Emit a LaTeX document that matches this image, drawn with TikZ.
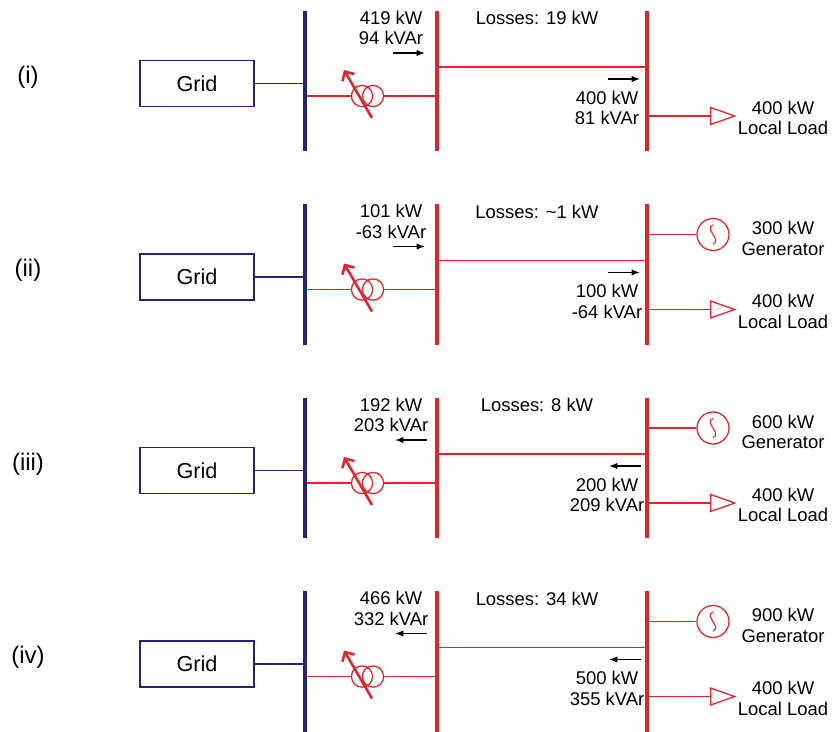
\documentclass[tikz,border=0pt]{standalone}
\usepackage{fontspec}
\setmainfont{Liberation Sans}
\usepackage{xcolor}
\usetikzlibrary{arrows.meta,shapes.geometric}

\definecolor{busblue}{RGB}{38,34,122}
\definecolor{busred}{RGB}{226,36,42}

\begin{document}
\begin{tikzpicture}[x=0.025cm,y=-0.025cm,
  font=\fontsize{13.1}{14.4}\selectfont,
  busbar/.style={minimum width=0.1cm,minimum height=3.5cm,inner sep=0pt},
  gridbox/.style={draw=busblue,line width=1pt,minimum width=2.85cm,minimum height=1.15cm,font=\fontsize{15.4}{18}\selectfont},
  caselabel/.style={font=\fontsize{17}{20}\selectfont},
  coil/.style={circle,draw=busred,line width=0.9pt,minimum size=0.53cm,inner sep=0pt},
  loadtri/.style={isosceles triangle,isosceles triangle stretches,draw=busred,line width=0.9pt,minimum width=0.425cm,minimum height=0.6cm,inner sep=0pt,anchor=west},
  genset/.style={circle,draw=busred,line width=0.9pt,minimum size=0.8cm,inner sep=0pt,
    path picture={\draw[busred,line width=0.8pt] ([yshift=0.24cm]path picture bounding box.center) .. controls +(-0.24cm,-0.1cm) and +(0.24cm,0.1cm) .. ([yshift=-0.24cm]path picture bounding box.center);}},
  val/.style={align=center,inner sep=0pt},
  blueline/.style={draw=busblue,line width=1pt},
  redline/.style={draw=busred,line width=1pt},
  taparrow/.style={draw=busred,line width=1.8pt,-{Straight Barb[length=5pt,width=10pt]}},
  flowarrow/.style={draw=black,line width=0.8pt,-{Latex[length=6pt,width=4.5pt]}}]

\useasboundingbox (0,0) rectangle (833,731);


% 1
\node[caselabel] (Case1) at (28,77) {(i)};
\node[gridbox] (Grid1) at (197,83.5) {Grid};
\node[busbar,fill=busblue] (BusA1) at (305,81) {};
\node[busbar,fill=busred] (BusB1) at (437,81) {};
\node[busbar,fill=busred] (BusC1) at (647,81) {};
\node[coil] (TrafoA1) at (362,96) {};
\node[coil] (TrafoB1) at (373,96) {};
\coordinate (TapA1) at (372,118);
\coordinate (TapB1) at (344,70);
\node[loadtri] (Load1) at (710,116) {};
\node[val] (LoadText1) at (783,118) {400 kW\\Local Load};
\node[val] (FlowA1) at (391,28) {419 kW\\94 kVAr};
\node[val] (Loss1) at (537,18) {Losses: 19 kW};
\node[val] (FlowB1) at (607,108) {400 kW\\81 kVAr};
\coordinate (ArrA1) at (393,53);
\coordinate (ArrB1) at (425,53);
\coordinate (ArrC1) at (608,79);
\coordinate (ArrD1) at (640,79);

\draw[blueline] (Grid1) -- (Grid1 -| BusA1.west);
\draw[redline] (BusA1.east |- TrafoA1) -- (TrafoA1);
\draw[redline] (TrafoB1) -- (TrafoB1 -| BusB1);
\draw[redline] ([yshift=0.35cm]BusB1.center) -- ([yshift=0.35cm]BusC1.center);
\draw[redline] (BusC1 |- Load1.west) -- (Load1.west);
\draw[taparrow] (TapA1) -- (TapB1);
\draw[flowarrow] (ArrA1) -- (ArrB1);
\draw[flowarrow] (ArrC1) -- (ArrD1);



% 2
\node[caselabel] (Case2) at (28,270.5) {(ii)};
\node[gridbox] (Grid2) at (197,277) {Grid};
\node[busbar,fill=busblue] (BusA2) at (305,274.5) {};
\node[busbar,fill=busred] (BusB2) at (437,274.5) {};
\node[busbar,fill=busred] (BusC2) at (647,274.5) {};
\node[coil] (TrafoA2) at (362,289.5) {};
\node[coil] (TrafoB2) at (373,289.5) {};
\coordinate (TapA2) at (372,311.5);
\coordinate (TapB2) at (344,263.5);
\node[genset] (Gen2) at (713,234.5) {};
\node[val] (GenText2) at (783,238.5) {300 kW\\Generator};
\node[loadtri] (Load2) at (710,309.5) {};
\node[val] (LoadText2) at (783,311.5) {400 kW\\Local Load};
\node[val] (FlowA2) at (391,221.5) {101 kW\\-63 kVAr};
\node[val] (Loss2) at (537,211.5) {Losses: \textasciitilde1 kW};
\node[val] (FlowB2) at (607,301.5) {100 kW\\-64 kVAr};
\coordinate (ArrA2) at (393,246.5);
\coordinate (ArrB2) at (425,246.5);
\coordinate (ArrC2) at (608,272.5);
\coordinate (ArrD2) at (640,272.5);

\draw[blueline] (Grid2) -- (Grid2 -| BusA2.west);
\draw[redline] (BusA2.east |- TrafoA2) -- (TrafoA2);
\draw[redline] (TrafoB2) -- (TrafoB2 -| BusB2);
\draw[redline] ([yshift=0.35cm]BusB2.center) -- ([yshift=0.35cm]BusC2.center);
\draw[redline] (BusC2 |- Gen2) -- (Gen2);
\draw[redline] (BusC2 |- Load2.west) -- (Load2.west);
\draw[taparrow] (TapA2) -- (TapB2);
\draw[flowarrow] (ArrA2) -- (ArrB2);
\draw[flowarrow] (ArrC2) -- (ArrD2);



% 3
\node[caselabel] (Case3) at (28,464) {(iii)};
\node[gridbox] (Grid3) at (197,470.5) {Grid};
\node[busbar,fill=busblue] (BusA3) at (305,468) {};
\node[busbar,fill=busred] (BusB3) at (437,468) {};
\node[busbar,fill=busred] (BusC3) at (647,468) {};
\node[coil] (TrafoA3) at (362,483) {};
\node[coil] (TrafoB3) at (373,483) {};
\coordinate (TapA3) at (372,505);
\coordinate (TapB3) at (344,457);
\node[genset] (Gen3) at (713,428) {};
\node[val] (GenText3) at (783,432) {600 kW\\Generator};
\node[loadtri] (Load3) at (710,503) {};
\node[val] (LoadText3) at (783,505) {400 kW\\Local Load};
\node[val] (FlowA3) at (391,415) {192 kW\\203 kVAr};
\node[val] (Loss3) at (537,405) {Losses: 8 kW};
\node[val] (FlowB3) at (607,495) {200 kW\\209 kVAr};
\coordinate (ArrA3) at (395,440);
\coordinate (ArrB3) at (427,440);
\coordinate (ArrC3) at (609,466);
\coordinate (ArrD3) at (641,466);

\draw[blueline] (Grid3) -- (Grid3 -| BusA3.west);
\draw[redline] (BusA3.east |- TrafoA3) -- (TrafoA3);
\draw[redline] (TrafoB3) -- (TrafoB3 -| BusB3);
\draw[redline] ([yshift=0.35cm]BusB3.center) -- ([yshift=0.35cm]BusC3.center);
\draw[redline] (BusC3 |- Gen3) -- (Gen3);
\draw[redline] (BusC3 |- Load3.west) -- (Load3.west);
\draw[taparrow] (TapA3) -- (TapB3);
\draw[flowarrow] (ArrB3) -- (ArrA3);
\draw[flowarrow] (ArrD3) -- (ArrC3);



% 4
\node[caselabel] (Case4) at (28,657.5) {(iv)};
\node[gridbox] (Grid4) at (197,664) {Grid};
\node[busbar,fill=busblue] (BusA4) at (305,661.5) {};
\node[busbar,fill=busred] (BusB4) at (437,661.5) {};
\node[busbar,fill=busred] (BusC4) at (647,661.5) {};
\node[coil] (TrafoA4) at (362,676.5) {};
\node[coil] (TrafoB4) at (373,676.5) {};
\coordinate (TapA4) at (372,698.5);
\coordinate (TapB4) at (344,650.5);
\node[genset] (Gen4) at (713,621.5) {};
\node[val] (GenText4) at (783,625.5) {900 kW\\Generator};
\node[loadtri] (Load4) at (710,696.5) {};
\node[val] (LoadText4) at (783,698.5) {400 kW\\Local Load};
\node[val] (FlowA4) at (391,608.5) {466 kW\\332 kVAr};
\node[val] (Loss4) at (537,598.5) {Losses: 34 kW};
\node[val] (FlowB4) at (607,688.5) {500 kW\\355 kVAr};
\coordinate (ArrA4) at (395,633.5);
\coordinate (ArrB4) at (427,633.5);
\coordinate (ArrC4) at (609,659.5);
\coordinate (ArrD4) at (641,659.5);

\draw[blueline] (Grid4) -- (Grid4 -| BusA4.west);
\draw[redline] (BusA4.east |- TrafoA4) -- (TrafoA4);
\draw[redline] (TrafoB4) -- (TrafoB4 -| BusB4);
\draw[redline] ([yshift=0.35cm]BusB4.center) -- ([yshift=0.35cm]BusC4.center);
\draw[redline] (BusC4 |- Gen4) -- (Gen4);
\draw[redline] (BusC4 |- Load4.west) -- (Load4.west);
\draw[taparrow] (TapA4) -- (TapB4);
\draw[flowarrow] (ArrB4) -- (ArrA4);
\draw[flowarrow] (ArrD4) -- (ArrC4);

\end{tikzpicture}
\end{document}
